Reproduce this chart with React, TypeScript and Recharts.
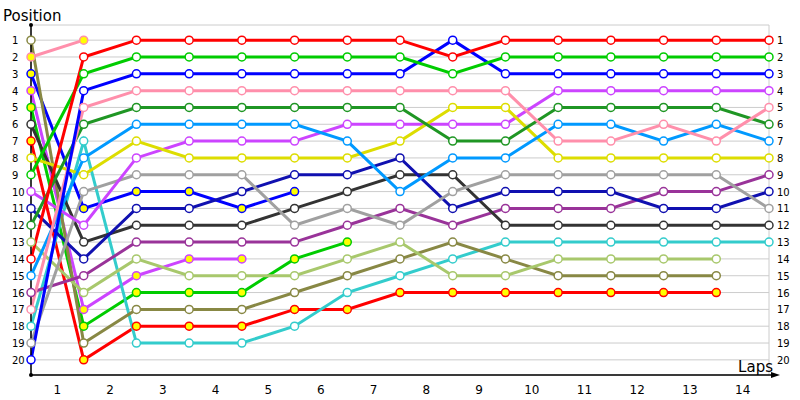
import { LineChart, Line, XAxis, YAxis, CartesianGrid } from 'recharts';

const laps = [0, 1, 2, 3, 4, 5, 6, 7, 8, 9, 10, 11, 12, 13, 14];
const lapLabelTicks = [0.5, 1.5, 2.5, 3.5, 4.5, 5.5, 6.5, 7.5, 8.5, 9.5, 10.5, 11.5, 12.5, 13.5];
const positionTicks = [1, 2, 3, 4, 5, 6, 7, 8, 9, 10, 11, 12, 13, 14, 15, 16, 17, 18, 19, 20];

// position of each car at the end of every lap (index 0 = grid), null once retired
const red1 = [14, 2, 1, 1, 1, 1, 1, 1, 2, 1, 1, 1, 1, 1, 1];
const green1 = [9, 3, 2, 2, 2, 2, 2, 2, 3, 2, 2, 2, 2, 2, 2];
const blue1 = [20, 4, 3, 3, 3, 3, 3, 3, 1, 3, 3, 3, 3, 3, 3];
const pink1 = [17, 5, 4, 4, 4, 4, 4, 4, 4, 4, 7, 7, 6, 7, 5];
const darkGreen = [12, 6, 5, 5, 5, 5, 5, 5, 7, 7, 5, 5, 5, 5, 6];
const skyBlue = [15, 8, 6, 6, 6, 6, 7, 10, 8, 8, 6, 6, 7, 6, 7];
const yellow = [8, 9, 7, 8, 8, 8, 8, 7, 5, 5, 8, 8, 8, 8, 8];
const magenta1 = [10, 12, 8, 7, 7, 7, 6, 6, 6, 6, 4, 4, 4, 4, 4];
const grey = [19, 10, 9, 9, 9, 12, 11, 12, 10, 9, 9, 9, 9, 9, 11];
const navy = [11, 14, 11, 11, 10, 9, 9, 8, 11, 10, 10, 10, 11, 11, 10];
const darkGrey = [6, 13, 12, 12, 12, 11, 10, 9, 9, 12, 12, 12, 12, 12, 12];
const purple = [16, 15, 13, 13, 13, 13, 12, 11, 12, 11, 11, 11, 10, 10, 9];
const lightGreen = [13, 16, 14, 15, 15, 15, 14, 13, 15, 15, 14, 14, 14, 14, null];
const olive = [1, 19, 17, 17, 17, 16, 15, 14, 13, 14, 15, 15, 15, 15, null];
const cyan = [18, 7, 19, 19, 19, 18, 16, 15, 14, 13, 13, 13, 13, 13, 13];
const red2 = [7, 20, 18, 18, 18, 17, 17, 16, 16, 16, 16, 16, 16, 16, null];
const green2 = [5, 18, 16, 16, 16, 14, 13, null, null, null, null, null, null, null, null];
const magenta2 = [4, 17, 15, 14, 14, null, null, null, null, null, null, null, null, null, null];
const blue2 = [3, 11, 10, 10, 11, 10, null, null, null, null, null, null, null, null, null];
const pink2 = [2, 1, null, null, null, null, null, null, null, null, null, null, null, null, null];

const cars: { key: string; values: (number | null)[] }[] = [
  { key: 'pink2', values: pink2 },
  { key: 'blue2', values: blue2 },
  { key: 'magenta2', values: magenta2 },
  { key: 'green2', values: green2 },
  { key: 'red2', values: red2 },
  { key: 'cyan', values: cyan },
  { key: 'olive', values: olive },
  { key: 'lightGreen', values: lightGreen },
  { key: 'purple', values: purple },
  { key: 'darkGrey', values: darkGrey },
  { key: 'navy', values: navy },
  { key: 'grey', values: grey },
  { key: 'magenta1', values: magenta1 },
  { key: 'yellow', values: yellow },
  { key: 'skyBlue', values: skyBlue },
  { key: 'darkGreen', values: darkGreen },
  { key: 'pink1', values: pink1 },
  { key: 'blue1', values: blue1 },
  { key: 'green1', values: green1 },
  { key: 'red1', values: red1 },
];

const styles: Record<string, { color: string; fill: string }> = {
  red1: { color: '#ff0000', fill: '#ffffff' },
  green1: { color: '#00cc00', fill: '#ffffff' },
  blue1: { color: '#0000ff', fill: '#ffffff' },
  pink1: { color: '#ff8fab', fill: '#ffffff' },
  darkGreen: { color: '#1f9624', fill: '#ffffff' },
  skyBlue: { color: '#0099ff', fill: '#ffffff' },
  yellow: { color: '#dddd00', fill: '#ffffff' },
  magenta1: { color: '#cc44ff', fill: '#ffffff' },
  grey: { color: '#a0a0a0', fill: '#ffffff' },
  navy: { color: '#1010b0', fill: '#ffffff' },
  darkGrey: { color: '#333333', fill: '#ffffff' },
  purple: { color: '#993399', fill: '#ffffff' },
  lightGreen: { color: '#a8c86c', fill: '#ffffff' },
  olive: { color: '#888844', fill: '#ffffff' },
  cyan: { color: '#33cccc', fill: '#ffffff' },
  red2: { color: '#ff0000', fill: '#ffff00' },
  green2: { color: '#00cc00', fill: '#ffff00' },
  magenta2: { color: '#cc44ff', fill: '#ffff00' },
  blue2: { color: '#0000ff', fill: '#ffff00' },
  pink2: { color: '#ff8fab', fill: '#ffff00' },
};

const data = laps.map((lap, i) => {
  const row: Record<string, number | null> = { lap };
  cars.forEach((c) => {
    row[c.key] = c.values[i];
  });
  return row;
});

const LapsLabel = (props: any) => {
  const vb = props.viewBox || {};
  const end = vb.x + vb.width;
  return (
    <g>
      <circle cx={vb.x} cy={vb.y} r={2} fill="#000" />
      <line x1={end} y1={vb.y} x2={end + 8} y2={vb.y} stroke="#000" strokeWidth={1.5} />
      <path d={`M${end + 2},${vb.y - 3} L${end + 11},${vb.y} L${end + 2},${vb.y + 3} Z`} fill="#000" />
      <text x={end + 4} y={vb.y - 3} textAnchor="end" fontSize={15} fill="#000">
        Laps
      </text>
    </g>
  );
};

const PositionLabel = (props: any) => {
  const vb = props.viewBox || {};
  const ax = vb.x + vb.width;
  return (
    <g>
      <circle cx={ax} cy={vb.y} r={2} fill="#000" />
      <text x={vb.x - 5} y={vb.y - 4} fontSize={15} fill="#000">
        Position
      </text>
    </g>
  );
};

const LeftTick = (props: any) => (
  <text x={props.x - 11} y={props.y} dy={4} textAnchor="start" fontSize={10} fill="#000">
    {props.payload.value}
  </text>
);

const RightTick = (props: any) => (
  <text x={props.x} y={props.y} dy={4} textAnchor="start" fontSize={10} fill="#000">
    {props.payload.value}
  </text>
);

const App = () => {
  return (
    <div style={{ position: 'absolute', left: 0, top: 0 }}>
      <LineChart
        width={800}
        height={400}
        data={data}
        margin={{ top: 25, right: 0, bottom: 0, left: 8 }}
        style={{ fontFamily: 'DejaVu Sans, sans-serif' }}
      >
        <CartesianGrid stroke="#cccccc" strokeWidth={1} />
        <XAxis
          dataKey="lap"
          type="number"
          domain={[0, 14]}
          ticks={laps.slice(1)}
          interval={0}
          tick={false}
          tickLine={false}
          axisLine={false}
          height={0}
        />
        <XAxis
          xAxisId="lbl"
          dataKey="lap"
          type="number"
          domain={[0, 14]}
          ticks={lapLabelTicks}
          interval={0}
          tickFormatter={(v: number) => String(v + 0.5)}
          axisLine={{ stroke: '#000', strokeWidth: 1.5 }}
          tickLine={false}
          height={25}
          tick={{ fontSize: 12, fill: '#000' }}
          tickMargin={4}
          label={{ content: LapsLabel }}
        />
        <YAxis
          type="number"
          reversed
          domain={[0.1, 20.9]}
          ticks={positionTicks}
          interval={0}
          width={23}
          tickLine={false}
          axisLine={{ stroke: '#000', strokeWidth: 1.5 }}
          tick={LeftTick}
          label={{ content: PositionLabel }}
        />
        <YAxis
          yAxisId="r"
          orientation="right"
          type="number"
          reversed
          domain={[0.1, 20.9]}
          allowDataOverflow
          ticks={positionTicks}
          interval={0}
          width={31}
          tickLine={false}
          axisLine={false}
          tick={RightTick}
        />
        {cars.map((c) => (
          <Line
            key={c.key}
            dataKey={c.key}
            type="linear"
            stroke={styles[c.key].color}
            strokeWidth={3}
            dot={{ r: 4, stroke: styles[c.key].color, strokeWidth: 1.5, fill: styles[c.key].fill }}
            activeDot={false}
            connectNulls={false}
            isAnimationActive={false}
          />
        ))}
      </LineChart>
    </div>
  );
};

export default App;
